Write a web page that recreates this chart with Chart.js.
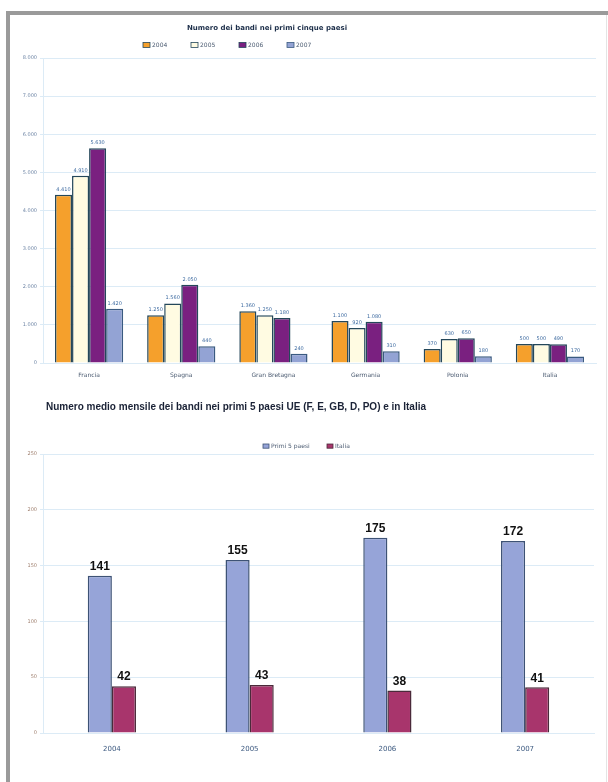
<!DOCTYPE html>
<html lang="it">
<head>
<meta charset="utf-8">
<title>Bandi nei primi paesi UE</title>
<script src="https://cdn.jsdelivr.net/npm/chart.js@4.4.1/dist/chart.umd.min.js"></script>
<style>
  html, body { margin: 0; padding: 0; background: #fff; }
  #page { position: relative; width: 608px; height: 782px; overflow: hidden; background: #fff; }
  #frameTop { position: absolute; left: 6px; top: 11px; width: 602px; height: 4px; background: #9a9a9a; }
  #frameLeft { position: absolute; left: 6px; top: 11px; width: 4px; height: 771px; background: #9a9a9a; }
  #frameRight { position: absolute; left: 606px; top: 15px; width: 1px; height: 767px; background: #e4e4e4; }
  canvas { position: absolute; }
  #topChart { left: 12px; top: 16px; }
  #bottomChart { left: 12px; top: 388px; }
</style>
</head>
<body>
<div id="page">
  <div id="frameTop"></div>
  <div id="frameLeft"></div>
  <div id="frameRight"></div>
  <canvas id="topChart" width="594" height="370"></canvas>
  <canvas id="bottomChart" width="594" height="394"></canvas>
</div>
<script>
'use strict';

// --- grafico 1: numero dei bandi nei primi cinque paesi ---
const PAESI = ['Francia', 'Spagna', 'Gran Bretagna', 'Germania', 'Polonia', 'Italia'];
const ANNI_TOP = ['2004', '2005', '2006', '2007'];
const BANDI_2004 = [4410, 1250, 1360, 1100, 370, 500];
const BANDI_2005 = [4910, 1560, 1250, 920, 630, 500];
const BANDI_2006 = [5630, 2050, 1180, 1080, 650, 490];
const BANDI_2007 = [1420, 440, 240, 310, 180, 170];
const TICKS_TOP = [0, 1000, 2000, 3000, 4000, 5000, 6000, 7000, 8000];

// --- grafico 2: numero medio mensile ---
const ANNI = ['2004', '2005', '2006', '2007'];
const PRIMI_5 = [141, 155, 175, 172];
const ITALIA = [42, 43, 38, 41];
const TICKS_BOTTOM = [0, 50, 100, 150, 200, 250];

const GRID = '#dcebf6';
const TICK_COLOR = '#6f86a6';

function fmtIt(n) {
  return String(n).replace(/\B(?=(\d{3})+(?!\d))/g, '.');
}

// valori sopra le barre (niente plugin esterni disponibili)
const valueLabels = {
  id: 'valueLabels',
  afterDatasetsDraw(chart, args, opts) {
    const ctx = chart.ctx;
    ctx.save();
    ctx.font = opts.font;
    ctx.fillStyle = opts.color;
    ctx.textAlign = 'center';
    ctx.textBaseline = 'bottom';
    chart.data.datasets.forEach((ds, i) => {
      chart.getDatasetMeta(i).data.forEach((bar, j) => {
        ctx.fillText(opts.format(ds.data[j]), bar.x, bar.y - opts.gap);
      });
    });
    ctx.restore();
  }
};

// titolo + legenda come nell'originale (non centrati sul canvas)
const header = {
  id: 'header',
  afterDraw(chart, args, o) {
    const ctx = chart.ctx;
    ctx.save();
    ctx.font = o.titleFont;
    ctx.fillStyle = o.titleColor;
    ctx.textAlign = 'center';
    ctx.textBaseline = 'middle';
    ctx.fillText(o.title, o.titleX, o.titleY);

    ctx.font = o.legendFont;
    ctx.textAlign = 'left';
    let x = o.legendX;
    chart.data.datasets.forEach(ds => {
      ctx.fillStyle = ds.backgroundColor;
      ctx.fillRect(x, o.legendY - o.box / 2, o.box, o.box * 0.7);
      ctx.strokeStyle = ds.borderColor;
      ctx.lineWidth = 0.8;
      ctx.strokeRect(x, o.legendY - o.box / 2, o.box, o.box * 0.7);
      ctx.fillStyle = o.legendColor;
      ctx.fillText(ds.label, x + o.box + 2, o.legendY - 1);
      x += o.legendStep;
    });
    ctx.restore();
  }
};

function fixedWidth(w) { return (scale) => { scale.width = w; }; }
function fixedHeight(h) { return (scale) => { scale.height = h; }; }

new Chart(document.getElementById('topChart'), {
  type: 'bar',
  data: {
    labels: PAESI,
    datasets: [
      { label: ANNI_TOP[0], data: BANDI_2004, backgroundColor: '#f5a02c', borderColor: '#24475a' },
      { label: ANNI_TOP[1], data: BANDI_2005, backgroundColor: '#fffbe2', borderColor: '#24475a' },
      { label: ANNI_TOP[2], data: BANDI_2006, backgroundColor: '#7a2080', borderColor: '#24475a' },
      { label: ANNI_TOP[3], data: BANDI_2007, backgroundColor: '#93a3d4', borderColor: '#3a5a80' }
    ]
  },
  options: {
    responsive: false,
    animation: false,
    datasets: { bar: { borderWidth: 1.5, categoryPercentage: 0.74, barPercentage: 1 } },
    layout: { padding: { left: 0, right: 10, top: 42, bottom: 0 } },
    plugins: {
      title: { display: false },
      legend: { display: false },
      tooltip: { enabled: false },
      header: {
        title: 'Numero dei bandi nei primi cinque paesi',
        titleFont: 'bold 7px DejaVu Sans', titleColor: '#1d2f4a', titleX: 255, titleY: 12,
        legendFont: '6px DejaVu Sans', legendColor: '#4a5a70',
        legendX: 131, legendY: 30, legendStep: 48, box: 7
      },
      valueLabels: { font: '5px DejaVu Sans', color: '#3d6aa0', gap: 3, format: fmtIt }
    },
    scales: {
      x: {
        afterFit: fixedHeight(23),
        grid: { display: false },
        border: { color: GRID },
        ticks: { color: '#4a5a70', font: { family: 'DejaVu Sans', size: 6 }, padding: 1 }
      },
      y: {
        min: 0, max: 8000,
        afterFit: fixedWidth(31),
        afterBuildTicks: (s) => { s.ticks = TICKS_TOP.map(v => ({ value: v })); },
        grid: { color: GRID, tickLength: 3 },
        border: { color: GRID },
        ticks: { color: TICK_COLOR, font: { family: 'DejaVu Sans', size: 5 }, callback: (v) => fmtIt(v) }
      }
    }
  },
  plugins: [valueLabels, header]
});

new Chart(document.getElementById('bottomChart'), {
  type: 'bar',
  data: {
    labels: ANNI,
    datasets: [
      { label: 'Primi 5 paesi', data: PRIMI_5, backgroundColor: '#96a4d8', borderColor: '#3d5275' },
      { label: 'Italia', data: ITALIA, backgroundColor: '#a8356c', borderColor: '#4a2a3a' }
    ]
  },
  options: {
    responsive: false,
    animation: false,
    datasets: { bar: { borderWidth: 1.5, categoryPercentage: 0.35, barPercentage: 1 } },
    layout: { padding: { left: 0, right: 12, top: 66, bottom: 0 } },
    plugins: {
      title: { display: false },
      legend: { display: false },
      tooltip: { enabled: false },
      header: {
        title: 'Numero medio mensile dei bandi nei primi 5 paesi UE (F, E, GB, D, PO) e in Italia',
        titleFont: 'bold 10px Liberation Sans', titleColor: '#1a2236', titleX: 224, titleY: 19,
        legendFont: '6px DejaVu Sans', legendColor: '#4a5a70',
        legendX: 251, legendY: 59, legendStep: 64, box: 6
      },
      valueLabels: { font: 'bold 12px Liberation Sans', color: '#111', gap: 3, format: (v) => String(v) }
    },
    scales: {
      x: {
        afterFit: fixedHeight(49),
        grid: { display: false },
        border: { color: GRID },
        ticks: { color: '#3d5a80', font: { family: 'DejaVu Sans', size: 7 }, padding: 4 }
      },
      y: {
        min: 0, max: 250,
        afterFit: fixedWidth(31),
        afterBuildTicks: (s) => { s.ticks = TICKS_BOTTOM.map(v => ({ value: v })); },
        grid: { color: GRID, tickLength: 3 },
        border: { color: GRID },
        ticks: { color: '#a08070', font: { family: 'DejaVu Sans', size: 5 } }
      }
    }
  },
  plugins: [valueLabels, header]
});
</script>
</body>
</html>
